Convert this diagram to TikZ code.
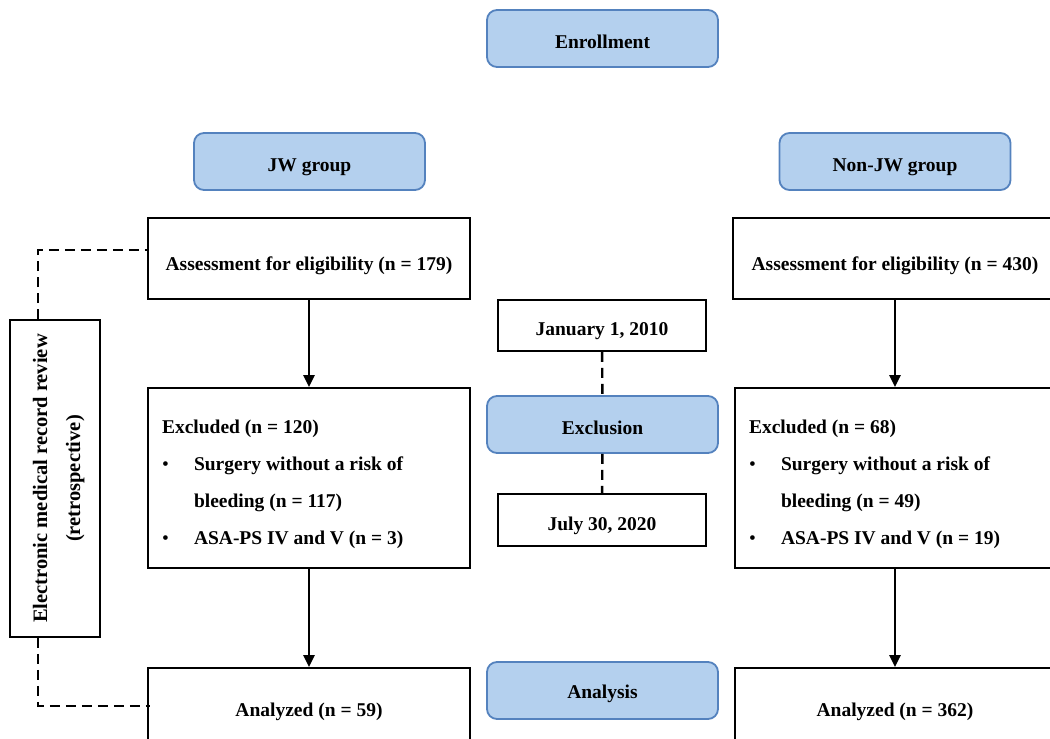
\documentclass[tikz,border=0pt]{standalone}
\usepackage{fontspec}
\usepackage{graphicx}
\setmainfont{Liberation Serif}
\usetikzlibrary{arrows.meta}
\definecolor{bfill}{RGB}{180,208,238}
\definecolor{bdraw}{RGB}{84,130,190}
\newcommand\dn[2]{\raisebox{-#1}[\height][\depth]{#2}}
\begin{document}
\begin{tikzpicture}[x=1pt,y=-1pt,
  font=\fontsize{19.5}{37}\selectfont\bfseries,
  bluebox/.style={draw=bdraw, fill=bfill, line width=1.8pt, rounded corners=10pt,
    minimum width=231pt, minimum height=57pt, inner sep=0pt},
  wbox/.style={draw=black, line width=1.8pt, inner sep=0pt},
  arr/.style={line width=2.4pt, -{Triangle[width=11pt,length=12pt]}},
  dline/.style={line width=2.4pt, dash pattern=on 10pt off 6pt}]
\useasboundingbox (0,0) rectangle (1050,739);
\clip (0,0) rectangle (1050,739);
% header boxes
\node[bluebox] (enr) at (602.5,38.5) {\dn{3pt}{Enrollment}};
\node[bluebox] (jw) at (309.5,161.5) {\dn{6pt}{JW group}};
\node[bluebox] (njw) at (895,161.5) {\dn{6pt}{Non-JW group}};
% assessment
\node[wbox, minimum width=322pt, minimum height=81pt] (assL) at (309,258.5) {\dn{7.5pt}{Assessment for eligibility (n = 179)}};
\node[wbox, minimum width=324pt, minimum height=81pt] (assR) at (895,258.5) {\dn{7.5pt}{Assessment for eligibility (n = 430)}};
% excluded
\node[wbox, minimum width=322pt, minimum height=180pt] (exL) at (309,478)
  {\dn{6.5pt}{\parbox{294pt}{\raggedright Excluded (n = 120)\\\makebox[32pt][l]{\mdseries •}Surgery without a risk of\\\hspace*{32pt}bleeding (n = 117)\\\makebox[32pt][l]{\mdseries •}ASA-PS IV and V (n = 3)}}};
\node[wbox, minimum width=320pt, minimum height=180pt] (exR) at (895,478)
  {\dn{6.5pt}{\parbox{292pt}{\raggedright Excluded (n = 68)\\\makebox[32pt][l]{\mdseries •}Surgery without a risk of\\\hspace*{32pt}bleeding (n = 49)\\\makebox[32pt][l]{\mdseries •}ASA-PS IV and V (n = 19)}}};
% analyzed
\node[wbox, minimum width=322pt, minimum height=76pt] (anL) at (309,706) {\dn{6pt}{Analyzed (n = 59)}};
\node[wbox, minimum width=320pt, minimum height=76pt] (anR) at (895,706) {\dn{6pt}{Analyzed (n = 362)}};
% middle column
\node[wbox, minimum width=208pt, minimum height=51pt] (jan) at (602,325.5) {\dn{5.5pt}{January 1, 2010}};
\node[bluebox] (excl) at (602.5,424.5) {\dn{3pt}{Exclusion}};
\node[wbox, minimum width=208pt, minimum height=52pt] (jul) at (602,520) {\dn{5.5pt}{July 30, 2020}};
\node[bluebox] (ana) at (602.5,690.5) {\dn{3.5pt}{Analysis}};
% EMR review
\node[wbox, minimum width=90pt, minimum height=317pt, font=\fontsize{20.5}{33}\selectfont\bfseries] (emr) at (55,478.5)
  {\hspace*{4pt}\rotatebox{90}{\begin{tabular}{@{}c@{}}Electronic medical record review\\(retrospective)\end{tabular}}};
% arrows
\draw[arr] (assL) -- (exL);
\draw[arr] (exL) -- (anL);
\draw[arr] (assR) -- (exR);
\draw[arr] (exR) -- (anR);
% dashed
\draw[dline] (jan) -- (excl);
\draw[dline] (excl) -- (jul);
\draw[dline] ([xshift=-17pt]emr.north) |- ([yshift=8.5pt]assL.west);
\draw[dline] ([xshift=-17pt]emr.south) |- ([xshift=3pt]anL.west);
\end{tikzpicture}
\end{document}
